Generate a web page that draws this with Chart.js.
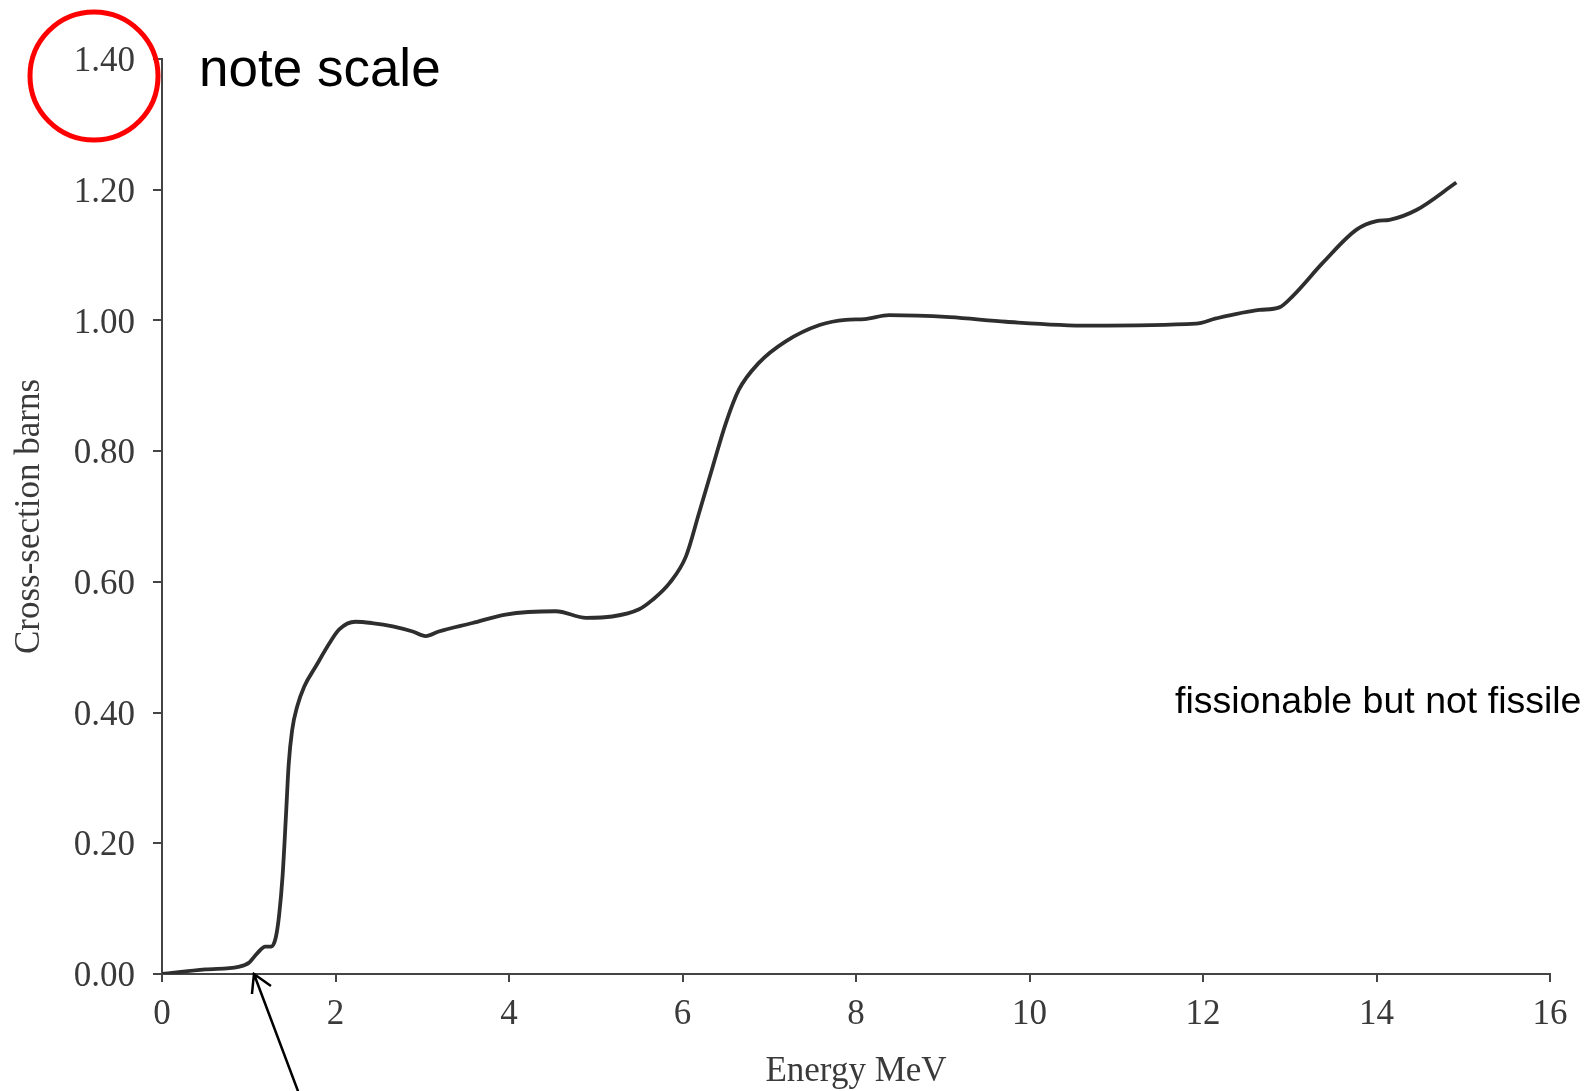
<!DOCTYPE html>
<html>
<head>
<meta charset="utf-8">
<script src="https://cdn.jsdelivr.net/npm/chart.js@4/dist/chart.umd.min.js"></script>
<style>
  html, body { margin: 0; padding: 0; background: #fff; }
  #wrap { width: 1589px; height: 1091px; }
</style>
</head>
<body>
<div id="wrap"><canvas id="mychart" width="1589" height="1091"></canvas></div>
<script>
// energy in MeV, cross-section in barns
var energy = [0, 0.5, 0.88, 1.0, 1.1, 1.19, 1.26, 1.31, 1.35, 1.39, 1.43, 1.46, 1.50, 1.56, 1.64, 1.77, 1.93, 2.04, 2.23, 2.42, 2.66, 2.89, 3.04, 3.19, 3.58, 3.96, 4.54, 4.89, 5.19, 5.50, 5.65, 5.85, 6.04, 6.19, 6.35, 6.50, 6.65, 6.88, 7.19, 7.58, 7.88, 8.1, 8.38, 9.08, 9.73, 10.69, 11.92, 12.15, 12.65, 12.88, 13.04, 13.38, 13.77, 14.0, 14.15, 14.46, 14.92]
var crossSection = [0, 0.007, 0.011, 0.017, 0.032, 0.042, 0.042, 0.055, 0.09, 0.15, 0.245, 0.32, 0.373, 0.41, 0.44, 0.47, 0.506, 0.527, 0.539, 0.537, 0.532, 0.524, 0.517, 0.524, 0.537, 0.55, 0.555, 0.545, 0.547, 0.558, 0.572, 0.598, 0.639, 0.705, 0.777, 0.843, 0.894, 0.935, 0.968, 0.993, 1.001, 1.002, 1.008, 1.005, 0.998, 0.992, 0.995, 1.003, 1.016, 1.02, 1.038, 1.088, 1.139, 1.152, 1.154, 1.169, 1.211]

var xTickLabels = ['0', '2', '4', '6', '8', '10', '12', '14', '16']
var yTickLabels = ['0.00', '0.20', '0.40', '0.60', '0.80', '1.00', '1.20', '1.40']

var points = []
for (var i = 0; i < energy.length; i++) {
  points.push({x: energy[i], y: crossSection[i]})
}

var axisColor = '#444'
var textColor = '#3a3a3a'
var serif = "'Liberation Serif', 'Times New Roman', serif"

// notes drawn on top of the chart
var notes = {
  id: 'notes',
  afterDraw: function(chart) {
    var ctx = chart.ctx
    var xs = chart.scales.x, ys = chart.scales.y
    ctx.save()
    ctx.fillStyle = '#000'
    ctx.textBaseline = 'alphabetic'
    ctx.font = "53px 'Liberation Sans', Arial, sans-serif"
    ctx.fillText('note scale', 199, 86)
    ctx.font = "37.5px 'Liberation Sans', Arial, sans-serif"
    ctx.fillText('fissionable but not fissile', 1175, 713)

    // red circle round the top tick label
    ctx.strokeStyle = '#f00'
    ctx.lineWidth = 5
    ctx.beginPath()
    ctx.arc(94, ys.getPixelForValue(1.4) + 17, 64, 0, Math.PI * 2)
    ctx.stroke()

    // arrow to the threshold
    var tx = xs.getPixelForValue(1.06), ty = ys.getPixelForValue(0)
    ctx.strokeStyle = '#000'
    ctx.lineWidth = 2.5
    ctx.beginPath()
    ctx.moveTo(tx + 47, ty + 125)
    ctx.lineTo(tx, ty)
    ctx.moveTo(tx - 2, ty + 20)
    ctx.lineTo(tx, ty)
    ctx.lineTo(tx + 17, ty + 12)
    ctx.stroke()
    ctx.restore()
  }
}

var chart = new Chart(document.getElementById('mychart').getContext('2d'), {
  type: 'scatter',
  data: {
    datasets: [{
      label: 'Cross-section',
      data: points,
      showLine: true,
      borderColor: '#2e2e2e',
      borderWidth: 3.8,
      pointRadius: 0,
      cubicInterpolationMode: 'monotone'
    }]
  },
  options: {
    responsive: false,
    animation: false,
    layout: { padding: { left: 0, right: 39, top: 59, bottom: 0 } },
    plugins: { legend: { display: false }, tooltip: { enabled: false } },
    scales: {
      x: {
        type: 'linear', min: 0, max: 16,
        afterFit: function(s) { s.height = 117 },
        border: { display: true, color: axisColor, width: 2 },
        grid: { display: true, drawOnChartArea: false, drawTicks: true, tickLength: 8, color: axisColor, lineWidth: 2 },
        ticks: {
          stepSize: 2, padding: 12, color: textColor, maxRotation: 0,
          font: { family: serif, size: 35 },
          callback: function(v) { return xTickLabels[Math.round(v / 2)] }
        },
        title: { display: true, text: 'Energy MeV', color: textColor, padding: { top: 0, bottom: 0 }, font: { family: serif, size: 35, lineHeight: 1.1 } }
      },
      y: {
        type: 'linear', min: 0, max: 1.4,
        afterFit: function(s) { s.width = 162 },
        border: { display: true, color: axisColor, width: 2 },
        grid: { display: true, drawOnChartArea: false, drawTicks: true, tickLength: 9, color: axisColor, lineWidth: 2 },
        ticks: {
          stepSize: 0.2, padding: 18, color: textColor, labelOffset: 3,
          font: { family: serif, size: 35 },
          callback: function(v) { return yTickLabels[Math.round(v / 0.2)] }
        },
        title: { display: true, text: 'Cross-section barns', color: textColor, padding: { top: 9, bottom: 0 }, font: { family: serif, size: 35 } }
      }
    }
  },
  plugins: [notes]
})
</script>
</body>
</html>
